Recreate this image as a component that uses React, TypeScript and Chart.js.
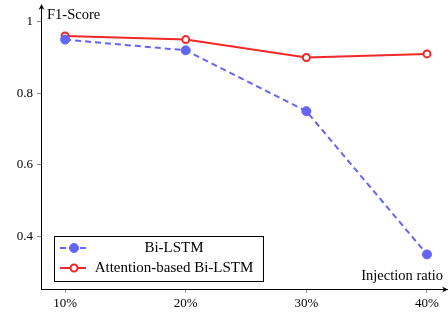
import React, { useEffect, useRef } from "react";
import { Chart, registerables } from "chart.js";

Chart.register(...registerables);

const ratios = [10, 20, 30, 40];
const tickLabels = ["10%", "20%", "30%", "40%"];
const biLstm = [0.95, 0.92, 0.75, 0.35];
const attnBiLstm = [0.96, 0.95, 0.9, 0.91];
const yTicks = [0.4, 0.6, 0.8, 1];
const seriesNames = ["Bi-LSTM", "Attention-based Bi-LSTM"];

const FONT = "'Liberation Serif', 'DejaVu Serif', serif";
const BLUE = "rgb(100,100,245)";
const RED = "rgb(240,40,40)";

const overlay = {
  id: "overlay",
  afterDraw(chart: any) {
    const ctx = chart.ctx;
    const { left, right, top, bottom } = chart.chartArea;
    ctx.save();
    ctx.strokeStyle = "#000";
    ctx.fillStyle = "#000";
    ctx.lineWidth = 1;
    // arrows
    ctx.beginPath();
    ctx.moveTo(left + 0.5, top + 6);
    ctx.lineTo(left + 0.5, top);
    ctx.stroke();
    ctx.beginPath();
    ctx.moveTo(left + 0.5, top - 1);
    ctx.lineTo(left - 2.5, top + 5);
    ctx.lineTo(left + 0.5, top + 3);
    ctx.lineTo(left + 3.5, top + 5);
    ctx.closePath();
    ctx.fill();
    ctx.beginPath();
    ctx.moveTo(right + 1, bottom + 0.5);
    ctx.lineTo(right - 5, bottom - 2.5);
    ctx.lineTo(right - 3, bottom + 0.5);
    ctx.lineTo(right - 5, bottom + 3.5);
    ctx.closePath();
    ctx.fill();
    // axis titles
    ctx.font = `14.5px ${FONT}`;
    ctx.textBaseline = "middle";
    ctx.textAlign = "left";
    ctx.fillText("F1-Score", left + 6, top + 10);
    ctx.textAlign = "right";
    ctx.fillText("Injection ratio", right - 4, bottom - 13);
    // legend
    const bx = 54, by = 236, bw = 209, bh = 45;
    ctx.fillStyle = "#fff";
    ctx.fillRect(bx, by, bw, bh);
    ctx.strokeStyle = "#000";
    ctx.strokeRect(bx + 0.5, by + 0.5, bw, bh);
    const rows = [by + 12, by + 32];
    chart.data.datasets.forEach((ds: any, i: number) => {
      const y = rows[i];
      ctx.strokeStyle = ds.borderColor;
      ctx.lineWidth = 2;
      ctx.setLineDash(ds.borderDash || []);
      ctx.beginPath();
      ctx.moveTo(60, y);
      ctx.lineTo(86, y);
      ctx.stroke();
      ctx.setLineDash([]);
      ctx.beginPath();
      ctx.arc(74, y, ds.pointRadius, 0, Math.PI * 2);
      ctx.fillStyle = ds.pointBackgroundColor;
      ctx.fill();
      ctx.strokeStyle = ds.pointBorderColor;
      ctx.lineWidth = ds.pointBorderWidth;
      ctx.stroke();
      ctx.fillStyle = "#000";
      ctx.textAlign = "center";
      ctx.font = `15px ${FONT}`;
      ctx.fillText(ds.label, 174, y);
    });
    ctx.restore();
  },
};

export default function App() {
  const ref = useRef<HTMLCanvasElement>(null);
  useEffect(() => {
    document.body.style.margin = "0";
    const toPts = (vals: number[]) => vals.map((v, i) => ({ x: ratios[i], y: v }));
    const chart = new Chart(ref.current!, {
      type: "line",
      data: {
        datasets: [
          {
            label: seriesNames[0],
            data: toPts(biLstm),
            borderColor: BLUE,
            borderWidth: 2,
            borderDash: [6, 4],
            pointRadius: 4.5,
            pointBackgroundColor: BLUE,
            pointBorderColor: BLUE,
            pointBorderWidth: 1,
            tension: 0,
          },
          {
            label: seriesNames[1],
            data: toPts(attnBiLstm),
            borderColor: RED,
            borderWidth: 2,
            pointRadius: 3.5,
            pointBackgroundColor: "#fff",
            pointBorderColor: RED,
            pointBorderWidth: 2,
            tension: 0,
          },
        ] as any,
      },
      options: {
        animation: false,
        responsive: false,
        events: [],
        layout: { autoPadding: false, padding: { top: 5, right: 1, left: 0, bottom: 0 } },
        plugins: { legend: { display: false }, tooltip: { enabled: false } },
        scales: {
          x: {
            type: "linear",
            min: 8.0,
            max: 41.66,
            afterBuildTicks: (s: any) => {
              s.ticks = ratios.map((v) => ({ value: v }));
            },
            afterFit: (s: any) => {
              s.height = 24;
              s.paddingLeft = 0;
              s.paddingRight = 0;
              s.paddingTop = 0;
              s.paddingBottom = 0;
            },
            ticks: {
              callback: (v: any) => tickLabels[ratios.indexOf(Number(v))] ?? "",
              color: "#000",
              font: { family: FONT, size: 13 },
              padding: 3,
              maxRotation: 0,
            },
            grid: { drawOnChartArea: false, tickLength: 4, color: "#888" },
            border: { color: "#000", width: 1 },
          },
          y: {
            type: "linear",
            min: 0.2533,
            max: 1.0466,
            afterBuildTicks: (s: any) => {
              s.ticks = yTicks.map((v) => ({ value: v }));
            },
            afterFit: (s: any) => {
              s.width = 41;
              s.paddingLeft = 0;
              s.paddingRight = 0;
              s.paddingTop = 0;
              s.paddingBottom = 0;
            },
            ticks: {
              callback: (v: any) => (Number(v) === 1 ? "1" : Number(v).toFixed(1)),
              color: "#000",
              font: { family: FONT, size: 13 },
              padding: 4,
            },
            grid: { drawOnChartArea: false, tickLength: 4, color: "#888" },
            border: { color: "#000", width: 1 },
          },
        },
      },
      plugins: [overlay],
    });
    return () => chart.destroy();
  }, []);
  return <canvas ref={ref} width={448} height={313} style={{ display: "block" }} />;
}
